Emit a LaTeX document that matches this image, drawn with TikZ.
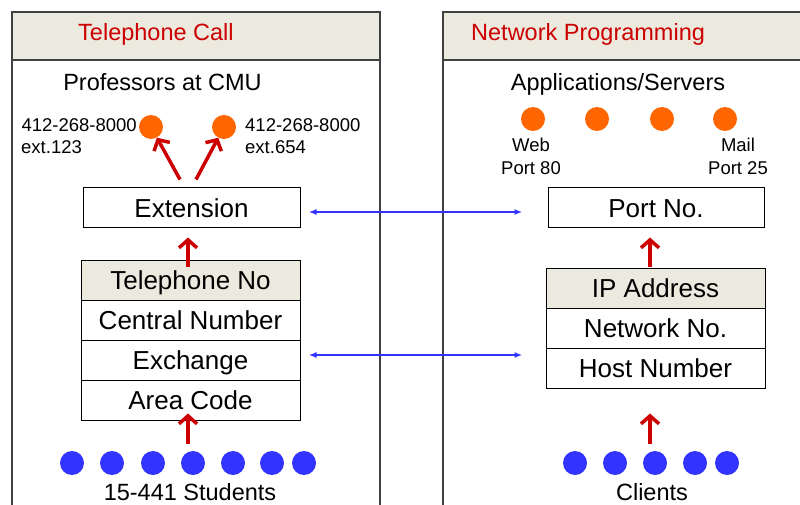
\documentclass[tikz,border=0pt]{standalone}
\usepackage{fontspec}
\setmainfont{Liberation Sans}
\usetikzlibrary{arrows.meta,calc}
\definecolor{hdrfill}{RGB}{236,233,223}
\definecolor{panelline}{RGB}{64,64,64}
\definecolor{titlered}{RGB}{204,0,0}
\definecolor{arrowred}{RGB}{204,0,0}
\definecolor{dotorange}{RGB}{255,102,0}
\definecolor{dotblue}{RGB}{51,51,255}
\definecolor{linkblue}{RGB}{51,51,255}
\begin{document}
\begin{tikzpicture}[x=1pt,y=-1pt,
  panel/.style={draw=panelline,line width=1.2pt},
  title/.style={text=titlered,font=\fontsize{23.5}{28}\selectfont,anchor=base west,inner sep=0},
  caption/.style={font=\fontsize{23.5}{28}\selectfont,anchor=base,inner sep=0},
  small/.style={font=\fontsize{18.5}{22}\selectfont,inner sep=0},
  field/.style={draw=black,line width=1pt,rectangle,font=\fontsize{26}{30}\selectfont,
    text height=19pt,text depth=0pt,inner sep=0,minimum height=40pt,minimum width=219pt},
  fieldhead/.style={field,fill=hdrfill},
  odot/.style={circle,fill=dotorange,minimum size=24pt,inner sep=0},
  bdot/.style={circle,fill=dotblue,minimum size=24pt,inner sep=0},
  up/.style={draw=arrowred,line width=3.5pt,-{Straight Barb[length=8pt,width=18pt]}},
  link/.style={draw=linkblue,line width=2pt,{Latex[length=8pt,width=6pt]}-{Latex[length=8pt,width=6pt]}}
]
\useasboundingbox (0,0) rectangle (800,505);
\clip (0,0) rectangle (800,505);

% ---- panels ----
\fill[hdrfill] (12,12) rectangle (380,60);
\fill[hdrfill] (443,12) rectangle (810,60);
\draw[panel] (12,515) -- (12,12) -- (380,12) -- (380,515);
\draw[panel] (12,60) -- (380,60);
\draw[panel] (443,515) -- (443,12) -- (810,12);
\draw[panel] (443,60) -- (810,60);
\node[title] (t1) at (78,41) {Telephone Call};
\node[title] (t2) at (471,41) {Network Programming};

% ---- telephone side ----
\node[caption] (prof) at (162.5,91) {Professors at CMU};
\node[odot] (pl) at (151,127) {};
\node[odot] (pr) at (224,127) {};
\node[small,anchor=base east] (pl1) at (137,132) {412-268-8000};
\node[small,anchor=base west] (pl2) at (21,154) {ext.123};
\node[small,anchor=base west] (pr1) at (245,132) {412-268-8000};
\node[small,anchor=base west] (pr2) at (245,154) {ext.654};

\node[field,minimum width=217pt,minimum height=39pt] (ext) at (191.5,207.5) {Extension};
\node[fieldhead] (telno) at (190.5,280) {Telephone No};
\node[field] (central) at (190.5,320) {Central Number};
\node[field] (exch) at (190.5,360) {Exchange};
\node[field] (area) at (190.5,400) {Area Code};

\foreach \x [count=\i] in {72,112,153,193,233,272,304}
  \node[bdot] (s\i) at (\x,463) {};
\node[caption] (stud) at (190,500) {15-441 Students};

\coordinate (extl) at ($(ext.north)+(-11.5,-8)$);
\coordinate (extr) at ($(ext.north)+(4.5,-8)$);
\draw[up] (extl) -- (pl);
\draw[up] (extr) -- (pr);
\draw[up] ($(telno.north)+(-2.5,7)$) -- ($(ext.south)+(-3.5,10)$);
\draw[up] ($(s4.north)+(-5,-7)$) -- ($(area.south)+(-2.5,-7)$);

% ---- network side ----
\node[caption] (apps) at (618,91) {Applications/Servers};
\foreach \x [count=\i] in {533,597,662,725}
  \node[odot] (a\i) at (\x,119) {};
\node[small,anchor=base] (web1) at (531,152) {Web};
\node[small,anchor=base] (web2) at (531,175) {Port 80};
\node[small,anchor=base] (mail1) at (738,152) {Mail};
\node[small,anchor=base] (mail2) at (738,175) {Port 25};

\node[field,minimum width=216pt,minimum height=39pt] (port) at (656,207.5) {Port No.};
\node[fieldhead] (ip) at (655.5,288) {IP Address};
\node[field] (net) at (655.5,328) {Network No.};
\node[field] (host) at (655.5,368) {Host Number};

\foreach \x [count=\i] in {575,615,655,695,727}
  \node[bdot] (c\i) at (\x,463) {};
\node[caption] (cli) at (652,500) {Clients};

\draw[up] ($(ip.north)+(-5.5,-1)$) -- ($(port.south)+(-6,10)$);
\draw[up] ($(c3.north)+(-5,-7)$) -- ($(host.south)+(-5.5,25)$);

% ---- correspondences ----
\draw[link] ($(ext.east)+(8,4.5)$) -- ($(port.west)+(-25,4.5)$);
\draw[link] ($(exch.east)+(8,-5)$) -- ($(port.west |- exch.east)+(-25,-5)$);
\end{tikzpicture}
\end{document}
